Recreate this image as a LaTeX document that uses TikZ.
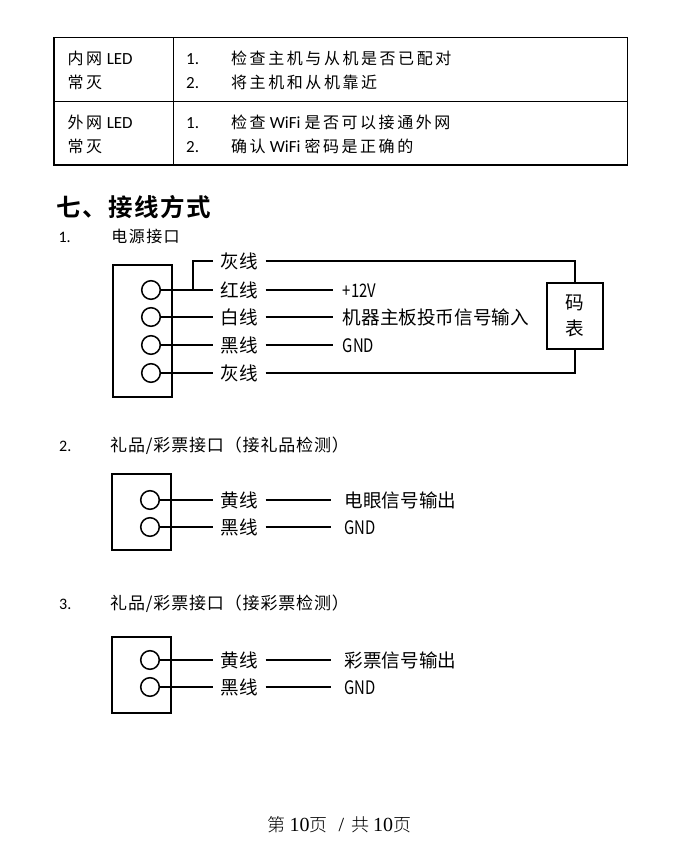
\documentclass[tikz,border=0pt]{standalone}
\usepackage{fontspec}
\usepackage{graphicx}
\setmainfont{Liberation Serif}
\newfontfamily\cjk{Noto Sans CJK SC}
\newfontfamily\cjktab[LetterSpace=16]{Noto Sans CJK SC}
\newfontfamily\cjkhead[LetterSpace=6]{Noto Sans CJK SC Bold}
\newfontfamily\cjksec[LetterSpace=9]{Noto Sans CJK SC}
\newfontfamily\cjksecb[LetterSpace=5]{Noto Sans CJK SC}
\newfontfamily\lat{Carlito}
\newfontfamily\song{Noto Sans CJK SC Light}
\newcommand\nar[1]{\scalebox{0.8}[1]{#1}}
\newcommand\tlat[1]{{\lat\fontsize{17}{18}\selectfont #1}}
\newcommand\tsp{\hspace{4.5pt}}
\begin{document}
\begin{tikzpicture}[x=1pt,y=-1pt,
 tabtxt/.style={anchor=base west, inner sep=0pt, font=\fontsize{16}{18}\selectfont},
 sectxt/.style={anchor=base west, inner sep=0pt, font=\fontsize{16}{19}\selectfont},
 wire/.style={line width=2pt},
 cbox/.style={draw, line width=2pt},
 pin/.style={circle, draw, line width=1.5pt, minimum size=18.6pt, inner sep=0pt},
 lbl/.style={inner xsep=7.6pt, inner ysep=0pt, text height=15.3pt, text depth=1.1pt, font=\cjk\fontsize{18.6}{22}\selectfont},
 sig/.style={anchor=west, inner xsep=9.4pt, inner ysep=0pt, text height=15.3pt, text depth=1.1pt, font=\cjk\fontsize{18.6}{22}\selectfont},
 tabline/.style={line width=1.3pt}
]
\useasboundingbox (0,0) rectangle (681,846);
\fill[white] (0,0) rectangle (681,846);

% ---------- table ----------
\draw[tabline] (54,37.5) rectangle (627.5,165);
\draw[tabline] (173.5,37.5) -- (173.5,165);
\draw[tabline] (54,101.5) -- (627.5,101.5);
\node[tabtxt] (t1a) at (67.5,64) {{\cjktab 内网}\tsp\tlat{LED}};
\node[tabtxt] (t1b) at (67.5,88.4) {\cjktab 常灭};
\node[tabtxt] (n1a) at (186,64) {\tlat{1.}};
\node[tabtxt] (n1b) at (186,88.4) {\tlat{2.}};
\node[tabtxt] (i1a) at (231,64) {\cjktab 检查主机与从机是否已配对};
\node[tabtxt] (i1b) at (231,88.4) {\cjktab 将主机和从机靠近};
\node[tabtxt] (t2a) at (67.5,128.4) {{\cjktab 外网}\tsp\tlat{LED}};
\node[tabtxt] (t2b) at (67.5,152.4) {\cjktab 常灭};
\node[tabtxt] (n2a) at (186,128.4) {\tlat{1.}};
\node[tabtxt] (n2b) at (186,152.4) {\tlat{2.}};
\node[tabtxt] (i2a) at (231,128.4) {{\cjktab 检查} \tlat{WiFi} {\cjktab 是否可以接通外网}};
\node[tabtxt] (i2b) at (231,152.4) {{\cjktab 确认} \tlat{WiFi} {\cjktab 密码是正确的}};

% ---------- heading ----------
\node[anchor=base west, inner sep=0pt, font=\fontsize{24.5}{27}\selectfont] (h7) at (56.3,216) {\cjkhead 七、接线方式};
\node[sectxt] (s1n) at (58.3,242.8) {\lat 1.};
\node[sectxt] (s1t) at (111.2,242.8) {\cjksec 电源接口};

% ---------- diagram 1 ----------
\draw[cbox] (113,265) rectangle (172,397);
\node[pin] (p1) at (151,290) {};
\node[pin] (p2) at (151,317) {};
\node[pin] (p3) at (151,345) {};
\node[pin] (p4) at (151,373) {};
\node[lbl] (g1) at (239.2,261) {灰线};
\node[lbl] (r1) at (239.2,290) {红线};
\node[lbl] (w1) at (239.2,317) {白线};
\node[lbl] (k1) at (239.2,345) {黑线};
\node[lbl] (g2) at (239.2,373) {灰线};
\node[sig] (v12) at (333.3,290) {\nar{+12V}};
\node[sig] (coin) at (333.3,317) {机器主板投币信号输入};
\node[sig] (gnd1) at (333.3,345) {\nar{GND}};
\node[draw, line width=2pt, minimum width=56pt, minimum height=66pt, inner sep=0pt, align=center,
      font=\cjk\fontsize{18.6}{25.7}\selectfont] (meter) at (575,316) {码\\表};
\coordinate (jog) at (193,290);
\draw[wire] (p1) -- (r1);
\draw[wire] (jog) |- (g1);
\draw[wire] (p2) -- (w1);
\draw[wire] (p3) -- (k1);
\draw[wire] (p4) -- (g2);
\draw[wire] (r1) -- (v12);
\draw[wire] (w1) -- (coin);
\draw[wire] (k1) -- (gnd1);
\draw[wire] (g1) -| (meter);
\draw[wire] (g2) -| (meter);

% ---------- section 2 ----------
\node[sectxt] (s2n) at (59,451.5) {\lat 2.};
\node[anchor=base west, inner sep=0pt, font=\fontsize{17}{20}\selectfont] (s2t) at (110,451.5) {\cjksecb 礼品/彩票接口（接礼品检测）};
\draw[cbox] (112,474) rectangle (171,550);
\node[pin] (q1) at (150,500) {};
\node[pin] (q2) at (150,527) {};
\node[lbl] (y2) at (239.2,500) {黄线};
\node[lbl] (k2) at (239.2,527) {黑线};
\node[sig, inner xsep=13.5pt] (eye) at (331,500) {电眼信号输出};
\node[sig, inner xsep=13.5pt] (gnd2) at (331,527) {\nar{GND}};
\draw[wire] (q1) -- (y2);
\draw[wire] (q2) -- (k2);
\draw[wire] (y2) -- (eye);
\draw[wire] (k2) -- (gnd2);

% ---------- section 3 ----------
\node[sectxt] (s3n) at (59,609.5) {\lat 3.};
\node[anchor=base west, inner sep=0pt, font=\fontsize{17}{20}\selectfont] (s3t) at (110,609.5) {\cjksecb 礼品/彩票接口（接彩票检测）};
\draw[cbox] (112,637) rectangle (171,713);
\node[pin] (u1) at (150,660) {};
\node[pin] (u2) at (150,687) {};
\node[lbl] (y3) at (239.2,660) {黄线};
\node[lbl] (k3) at (239.2,687) {黑线};
\node[sig, inner xsep=13.5pt] (tkt) at (331,660) {彩票信号输出};
\node[sig, inner xsep=13.5pt] (gnd3) at (331,687) {\nar{GND}};
\draw[wire] (u1) -- (y3);
\draw[wire] (u2) -- (k3);
\draw[wire] (y3) -- (tkt);
\draw[wire] (k3) -- (gnd3);

% ---------- footer ----------
\node[anchor=base west, inner sep=0pt, font=\fontsize{20}{22}\selectfont] (foot) at (267.5,831.5)
  {{\song\fontsize{18}{20}\selectfont 第}\hspace{4pt}10{\song\fontsize{18}{20}\selectfont 页}\hspace{10.8pt}/\hspace{7pt}{\song\fontsize{18}{20}\selectfont 共}\hspace{4pt}10{\song\fontsize{18}{20}\selectfont 页}};
\end{tikzpicture}
\end{document}
